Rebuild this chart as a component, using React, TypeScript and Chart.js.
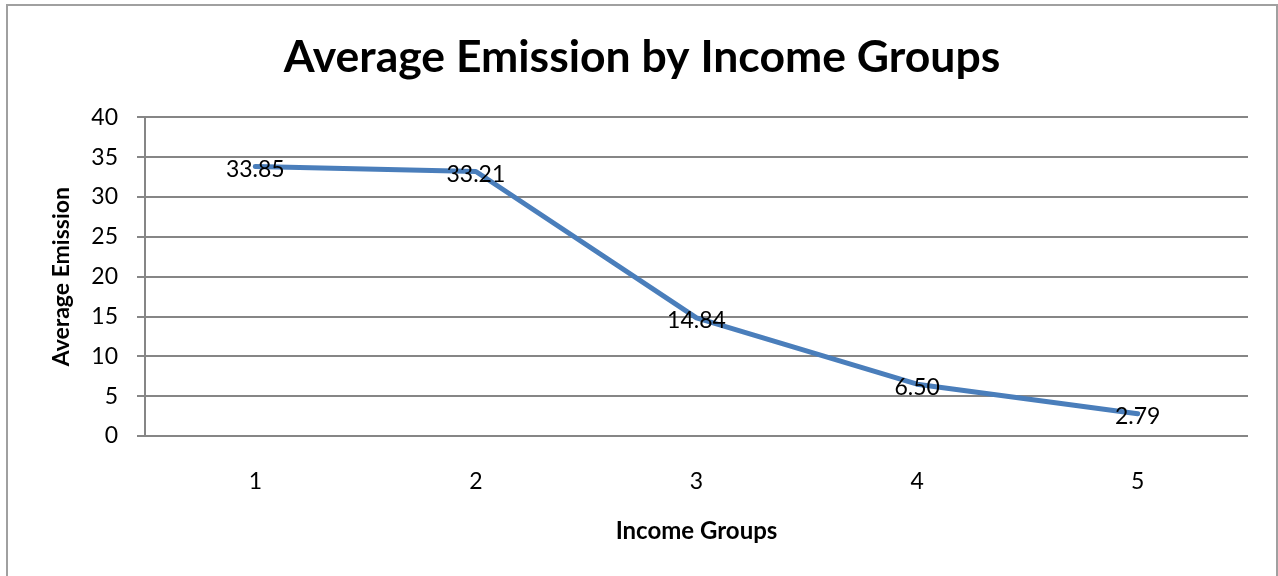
import React, { useEffect, useRef } from "react";
import { Chart, registerables } from "chart.js";

Chart.register(...registerables);

// Income group categories and their average emission
const incomeGroups: string[] = ["1", "2", "3", "4", "5"];
const averageEmission: number[] = [33.85, 33.21, 14.84, 6.5, 2.79];

// Value axis range
const yMin = 0;
const yMax = 40;
const yStep = 5;

const FONT = "Lato, 'Open Sans', 'DejaVu Sans', sans-serif";
const LINE_COLOR = "#4a7ebb";
const GRID_COLOR = "#868686";

// Writes each point's value centered on the point
const valueLabels = {
  id: "valueLabels",
  afterDatasetsDraw(chart: any) {
    const { ctx } = chart;
    const meta = chart.getDatasetMeta(0);
    const data = chart.data.datasets[0].data as number[];
    ctx.save();
    ctx.font = `23px ${FONT}`;
    ctx.fillStyle = "#000000";
    ctx.textAlign = "center";
    ctx.textBaseline = "middle";
    meta.data.forEach((pt: any, i: number) => {
      ctx.fillText(data[i].toFixed(2), pt.x, pt.y + 3);
    });
    ctx.restore();
  },
};

// Thin frame around the whole chart
const chartFrame = {
  id: "chartFrame",
  beforeDraw(chart: any) {
    const { ctx } = chart;
    ctx.save();
    ctx.fillStyle = "#ffffff";
    ctx.fillRect(0, 0, chart.width, chart.height);
    ctx.strokeStyle = "#a0a0a0";
    ctx.lineWidth = 2;
    ctx.strokeRect(7, 5, 1270, 700);
    ctx.restore();
  },
};

export default function App() {
  const canvasRef = useRef<HTMLCanvasElement | null>(null);

  useEffect(() => {
    if (!canvasRef.current) return;
    const chart = new Chart(canvasRef.current, {
      type: "line",
      data: {
        labels: incomeGroups,
        datasets: [
          {
            label: "Average Emission",
            data: averageEmission,
            borderColor: LINE_COLOR,
            backgroundColor: LINE_COLOR,
            borderWidth: 5,
            borderJoinStyle: "round",
            borderCapStyle: "round",
            pointRadius: 0,
            pointHoverRadius: 0,
            tension: 0,
          },
        ],
      },
      options: {
        responsive: false,
        animation: false,
        devicePixelRatio: 1,
        layout: { padding: { left: 36, right: 30, top: 0, bottom: 0 } },
        plugins: {
          legend: { display: false },
          tooltip: { enabled: false },
          title: {
            display: true,
            text: "Average Emission by Income Groups",
            color: "#000000",
            font: { family: FONT, size: 44.5, weight: "bold", lineHeight: 1.2 },
            padding: { top: 31, bottom: 33 },
          },
        },
        scales: {
          x: {
            type: "category",
            offset: true,
            grid: { display: false },
            border: { display: false },
            ticks: {
              color: "#000000",
              font: { family: FONT, size: 23 },
              padding: 24,
              maxRotation: 0,
            },
            title: {
              display: true,
              text: "Income Groups",
              color: "#000000",
              font: { family: FONT, size: 24, weight: "bold", lineHeight: 1.2 },
              padding: { top: 0, bottom: 30 },
            },
            afterFit(scale: any) {
              scale.height = 140;
            },
          },
          y: {
            min: yMin,
            max: yMax,
            grid: {
              color: GRID_COLOR,
              lineWidth: 2,
              tickLength: 8,
              drawTicks: true,
              tickColor: GRID_COLOR,
            },
            border: { display: true, color: GRID_COLOR, width: 2 },
            ticks: {
              stepSize: yStep,
              color: "#000000",
              font: { family: FONT, size: 23 },
              padding: 19,
            },
            title: {
              display: true,
              text: "Average Emission",
              color: "#000000",
              font: { family: FONT, size: 23, weight: "bold", lineHeight: 1.2 },
              padding: { top: 12, bottom: 0 },
            },
            afterFit(scale: any) {
              scale.width = 109;
            },
          },
        },
      },
      plugins: [chartFrame, valueLabels],
    });
    return () => chart.destroy();
  }, []);

  return (
    <canvas
      ref={canvasRef}
      width={1278}
      height={576}
      style={{ position: "absolute", left: 0, top: 0, display: "block" }}
    />
  );
}
